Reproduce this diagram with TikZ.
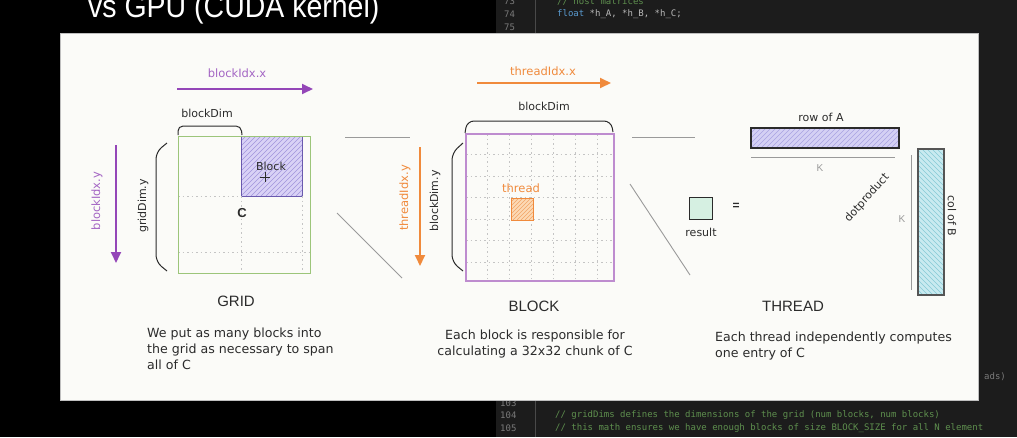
\documentclass[tikz,border=0pt]{standalone}
\usepackage{fontspec}
\setmainfont{Liberation Sans}
\newfontfamily\handfont{DejaVu Sans}
\newfontfamily\codefont{DejaVu Sans Mono}
\usetikzlibrary{arrows.meta}
\definecolor{slidebg}{HTML}{FBFBF8}
\definecolor{codebg}{HTML}{1C1C1C}
\definecolor{purp}{HTML}{9446B8}
\definecolor{purplabel}{HTML}{A466C4}
\definecolor{orng}{HTML}{F08A3C}
\definecolor{gridgreen}{HTML}{9CC57A}
\definecolor{blkfill}{HTML}{D9D2F6}
\definecolor{blkhatch}{HTML}{A094DC}
\definecolor{blkedge}{HTML}{6A5AAE}
\definecolor{bigedge}{HTML}{BE8CCF}
\definecolor{thfill}{HTML}{FCD9B4}
\definecolor{thhatch}{HTML}{F2A466}
\definecolor{rowfill}{HTML}{D4D0F4}
\definecolor{rowhatch}{HTML}{A9A2E2}
\definecolor{colfill}{HTML}{C8EAF0}
\definecolor{colhatch}{HTML}{86CAD6}
\definecolor{resfill}{HTML}{D6F0E2}
\definecolor{ink}{HTML}{2B2B2B}
\definecolor{zoomline}{HTML}{9A9A9A}
\definecolor{dotgray}{HTML}{C4C4C4}
\definecolor{cmt}{HTML}{5E8F4E}
\definecolor{kw}{HTML}{5A9BD0}
\definecolor{codetxt}{HTML}{B8B8B8}
\definecolor{lnum}{HTML}{7A7A7A}
% forward hatch "/"
\newcommand\hatchfwd[6]{%
  \begin{scope}
    \clip (#1,#2) rectangle (#3,#4);
    \pgfmathsetmacro\hh{#4-#2}
    \pgfmathsetmacro\ww{#3-#1}
    \pgfmathsetmacro\ha{-\hh}
    \pgfmathsetmacro\hb{-\hh+#6}
    \foreach \t in {\ha,\hb,...,\ww} {
      \draw[#5, line width=0.6] (#1+\t,#4) -- ++(\hh,-\hh);
    }
  \end{scope}}
% backward hatch "\"
\newcommand\hatchbwd[6]{%
  \begin{scope}
    \clip (#1,#2) rectangle (#3,#4);
    \pgfmathsetmacro\hh{#4-#2}
    \pgfmathsetmacro\ww{#3-#1}
    \pgfmathsetmacro\ha{-\hh}
    \pgfmathsetmacro\hb{-\hh+#6}
    \foreach \t in {\ha,\hb,...,\ww} {
      \draw[#5, line width=0.6] (#1+\t,#2) -- ++(\hh,\hh);
    }
  \end{scope}}
\tikzset{
  hand/.style={font=\handfont\fontsize{11}{13}\selectfont, text=ink, inner sep=0},
  lab/.style={font=\handfont\fontsize{11.5}{13}\selectfont, inner sep=0},
  desc/.style={font=\handfont\fontsize{12.6}{16}\selectfont, text=ink, inner sep=0},
  secttitle/.style={font=\fontsize{15}{15}\selectfont, text=ink, inner sep=0},
  klab/.style={font=\fontsize{10}{10}\selectfont, text=zoomline, inner sep=0},
  parrow/.style={purp, line width=1.8, -{Triangle[length=11pt,width=10pt]}},
  oarrow/.style={orng, line width=1.8, -{Triangle[length=11pt,width=10pt]}},
  zline/.style={zoomline, line width=0.9},
  bracket/.style={ink, line width=1, rounded corners=7},
  dotl/.style={dotgray, line width=0.9, dash pattern=on 1.5pt off 3pt},
  code/.style={font=\codefont\fontsize{9}{9}\selectfont, inner sep=0, anchor=west},
}
\begin{document}
\begin{tikzpicture}[x=1pt,y=-1pt]
\useasboundingbox (0,0) rectangle (1017,437);
% ---------- screenshot surroundings ----------
\fill[black] (0,0) rectangle (1017,437);
\fill[codebg] (496,0) rectangle (1017,437);
\draw[lnum!60!black, line width=0.8] (535,0) -- (535,33);
\draw[lnum!60!black, line width=0.8] (535,400) -- (535,437);
\node[anchor=base west, text=white, inner sep=0, font=\fontsize{32}{32}\selectfont] (title) at (88,17) {\scalebox{0.89}[1]{vs GPU (CUDA kernel)}};
\node[code, text=lnum] (l73) at (504,1) {73};
\node[code, text=lnum] (l74) at (504,14) {74};
\node[code, text=lnum] (l75) at (504,27) {75};
\node[code, text=cmt] (c73) at (557,1) {// host matrices};
\node[code] (c74) at (557,14) {\textcolor{kw}{float} \textcolor{codetxt}{*h\_A, *h\_B, *h\_C;}};
\node[code, text=lnum] (l103) at (500,403) {103};
\node[code, text=lnum] (l104) at (500,415) {104};
\node[code, text=lnum] (l105) at (500,428) {105};
\node[code, text=cmt] (c104) at (555,415) {// gridDims defines the dimensions of the grid (num blocks, num blocks)};
\node[code, text=cmt] (c105) at (555,428) {// this math ensures we have enough blocks of size BLOCK\_SIZE for all N element};
\node[code, text=lnum] (ads) at (984,377) {ads)};
% ---------- slide ----------
\filldraw[fill=slidebg, draw=gray!50, line width=0.8] (60,33) rectangle (978,400);

% ================= GRID =================
\coordinate (bxs) at (177,89); \coordinate (bxe) at (313,89);
\draw[parrow] (bxs) -- (bxe);
\node[lab, text=purplabel] (bxl) at (237,73) {blockIdx.x};
\coordinate (bys) at (116,145); \coordinate (bye) at (116,263);
\draw[parrow] (bys) -- (bye);
\node[lab, text=purplabel, rotate=90] (byl) at (97,201) {blockIdx.y};
% block (hatched)
\fill[blkfill] (241,136) rectangle (302,196);
\hatchfwd{241}{136}{302}{196}{blkhatch}{5}
\draw[blkedge, line width=0.9] (241,136) rectangle (302,196);
% dotted grid
\draw[dotl] (241,196) -- (241,273);
\draw[dotl] (302,196) -- (302,273);
\draw[dotl] (178,196) -- (241,196);
\draw[dotl] (178,252) -- (310,252);
% grid square
\node[draw=gridgreen, line width=1.3, anchor=north west, minimum width=132pt, minimum height=137pt, inner sep=0] (gridsq) at (178,136) {};
\draw[bracket, rounded corners=5] (178,135) -- (178,126) -- (241,126) -- (242,135);
\node[hand] (gbd) at (207,113) {blockDim};
\draw[bracket] (167,143) -- (156,152) -- (156,262) -- (167,271);
\node[hand, rotate=90] (gdy) at (143,206) {gridDim.y};
\node[hand] (blk) at (271,166) {Block};
\draw[ink, line width=0.8] (265,172) -- (265,182) (260,177) -- (270,177);
\node[font=\bfseries\fontsize{13}{13}\selectfont, text=ink, inner sep=0] (cC) at (242,213) {C};
\node[secttitle] (tgrid) at (236,301) {GRID};
\node[desc, anchor=north west, align=left] (dgrid) at (147,328) {We put as many blocks into\\the grid as necessary to span\\all of C};

% zoom lines grid -> block
\coordinate (z1a) at (345,137); \coordinate (z1b) at (410,137);
\coordinate (z2a) at (337,213); \coordinate (z2b) at (402,278);
\draw[zline] (z1a) -- (z1b);
\draw[zline] (z2a) -- (z2b);

% ================= BLOCK =================
\coordinate (txs) at (477,83); \coordinate (txe) at (611,83);
\draw[oarrow] (txs) -- (txe);
\node[lab, text=orng] (txl) at (543,71) {threadIdx.x};
\coordinate (tys) at (420,147); \coordinate (tye) at (420,266);
\draw[oarrow] (tys) -- (tye);
\node[lab, text=orng, rotate=90] (tyl) at (405,198) {threadIdx.y};
\foreach \i in {1,...,6} {
  \draw[dotl] (465+22*\i,134) -- (465+22*\i,279);
  \draw[dotl] (466,133+21.5*\i) -- (612,133+21.5*\i);
}
\node[draw=bigedge, line width=1.5, anchor=north west, minimum width=148pt, minimum height=147pt, inner sep=0] (blocksq) at (465,133) {};
\fill[thfill] (511,198) rectangle (533,220);
\hatchfwd{511}{198}{533}{220}{thhatch}{4}
\draw[orng, line width=1] (511,198) rectangle (533,220);
\node[lab, text=orng] (thl) at (521,188) {thread};
\draw[bracket] (465,133) -- (467,121) -- (611,121) -- (613,132);
\node[hand] (bbd) at (544,106) {blockDim};
\draw[bracket] (463,143) -- (452,153) -- (452,262) -- (463,271);
\node[hand, rotate=90] (bdy) at (435,201) {blockDim.y};
\node[secttitle] (tblock) at (534,306) {BLOCK};
\node[desc, anchor=north, align=center] (dblock) at (535,330) {Each block is responsible for\\calculating a 32x32 chunk of C};

% zoom lines block -> thread
\coordinate (z3a) at (632,137); \coordinate (z3b) at (695,137);
\coordinate (z4a) at (630,184); \coordinate (z4b) at (690,275);
\draw[zline] (z3a) -- (z3b);
\draw[zline] (z4a) -- (z4b);

% ================= THREAD =================
\node[hand] (rowl) at (821,117) {row of A};
\fill[rowfill] (751,128) rectangle (899,148);
\hatchfwd{751}{128}{899}{148}{rowhatch}{5}
\draw[ink, line width=1.2] (751,128) rectangle (899,148);
\coordinate (k1a) at (751,157); \coordinate (k1b) at (895,157);
\draw[zline] (k1a) -- (k1b);
\node[klab] (k1) at (820,168) {K};
\fill[colfill] (918,149) rectangle (944,295);
\hatchbwd{918}{149}{944}{295}{colhatch}{5}
\draw[ink!80, line width=1.1] (918,149) rectangle (944,295);
\coordinate (k2a) at (911,155); \coordinate (k2b) at (911,290);
\draw[zline] (k2a) -- (k2b);
\node[klab] (k2) at (902,219) {K};
\node[hand, rotate=-90] (coll) at (952,216) {col of B};
\node[hand, rotate=48] (dotp) at (867,198) {dotproduct};
\node[draw=ink, line width=1, fill=resfill, anchor=north west, minimum width=23pt, minimum height=22pt, inner sep=0] (res) at (689,197) {};
\node[font=\bfseries\fontsize{12}{12}\selectfont, text=ink, inner sep=0] (eq) at (736,206) {=};
\node[hand] (resl) at (701,232) {result};
\node[secttitle] (tthread) at (793,306) {THREAD};
\node[desc, anchor=north west, align=left] (dthread) at (715,332) {Each thread independently computes\\one entry of C};
\end{tikzpicture}
\end{document}
